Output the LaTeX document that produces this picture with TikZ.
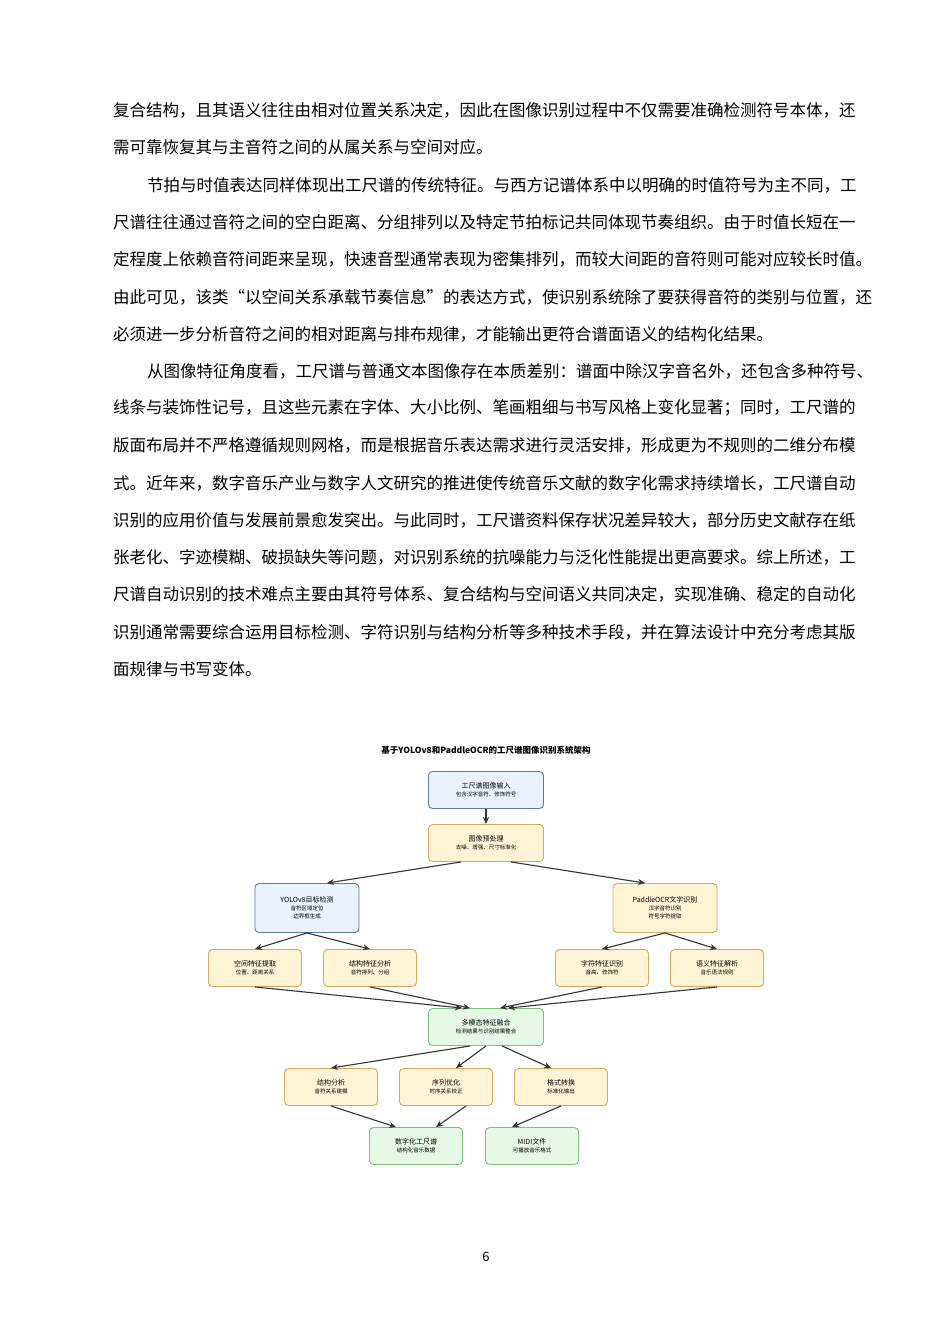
\documentclass[tikz,border=0pt]{standalone}
\usepackage{fontspec}
\setmainfont{Noto Sans CJK SC}
\usetikzlibrary{arrows.meta,calc}
\XeTeXlinebreaklocale "zh"
\XeTeXlinebreakskip=0pt plus 3pt
\definecolor{bfill}{HTML}{EAF3FD}\definecolor{bdraw}{HTML}{5C78A6}
\definecolor{yfill}{HTML}{FFF4D6}\definecolor{ydraw}{HTML}{D6A65C}
\definecolor{gfill}{HTML}{E6F8E6}\definecolor{gdraw}{HTML}{7CC27C}
\tikzset{
 jl/.style={anchor=west,inner sep=0pt,font=\fontsize{16.5}{17}\selectfont},
 bx/.style={rounded corners=4pt,line width=0.9pt,minimum width=#1,minimum height=37pt,align=center,inner sep=1pt,font=\fontsize{7}{9}\selectfont},
 bx/.default=93pt,
 blue/.style={bx=#1,fill=bfill,draw=bdraw},blue/.default=115pt,
 yel/.style={bx=#1,fill=yfill,draw=ydraw},yel/.default=93pt,
 grn/.style={bx=#1,fill=gfill,draw=gdraw},grn/.default=93pt,
 ar/.style={-{Stealth[length=7pt,width=6pt]},line width=1.1pt,draw=black!80}
}
\newcommand{\sub}[1]{\\[-1pt]{\fontsize{5.5}{8}\selectfont #1}}
\newcommand{\jline}[3]{\node[jl] at (#1,#2) {\makebox[\dimexpr860pt-#1pt\relax][s]{#3}};}
\newcommand{\lline}[3]{\node[jl] at (#1,#2) {#3};}
\begin{document}
\begin{tikzpicture}[x=1pt,y=-1pt]
\useasboundingbox[fill=white] (0,0) rectangle (950,1344);
\jline{113}{110}{复合结构，且其语义往往由相对位置关系决定，因此在图像识别过程中不仅需要准确检测符号本体，还}
\lline{113}{147}{需可靠恢复其与主音符之间的从属关系与空间对应。}
\jline{147}{185}{节拍与时值表达同样体现出工尺谱的传统特征。与西方记谱体系中以明确的时值符号为主不同，工}
\jline{113}{222}{尺谱往往通过音符之间的空白距离、分组排列以及特定节拍标记共同体现节奏组织。由于时值长短在一}
\jline{113}{259}{定程度上依赖音符间距来呈现，快速音型通常表现为密集排列，而较大间距的音符则可能对应较长时值。}
\jline{113}{297}{由此可见，该类“以空间关系承载节奏信息”的表达方式，使识别系统除了要获得音符的类别与位置，还}
\lline{113}{334}{必须进一步分析音符之间的相对距离与排布规律，才能输出更符合谱面语义的结构化结果。}
\jline{147}{371}{从图像特征角度看，工尺谱与普通文本图像存在本质差别：谱面中除汉字音名外，还包含多种符号、}
\jline{113}{408}{线条与装饰性记号，且这些元素在字体、大小比例、笔画粗细与书写风格上变化显著；同时，工尺谱的}
\jline{113}{445}{版面布局并不严格遵循规则网格，而是根据音乐表达需求进行灵活安排，形成更为不规则的二维分布模}
\jline{113}{483}{式。近年来，数字音乐产业与数字人文研究的推进使传统音乐文献的数字化需求持续增长，工尺谱自动}
\jline{113}{520}{识别的应用价值与发展前景愈发突出。与此同时，工尺谱资料保存状况差异较大，部分历史文献存在纸}
\jline{113}{557}{张老化、字迹模糊、破损缺失等问题，对识别系统的抗噪能力与泛化性能提出更高要求。综上所述，工}
\jline{113}{594}{尺谱自动识别的技术难点主要由其符号体系、复合结构与空间语义共同决定，实现准确、稳定的自动化}
\jline{113}{632}{识别通常需要综合运用目标检测、字符识别与结构分析等多种技术手段，并在算法设计中充分考虑其版}
\lline{113}{669}{面规律与书写变体。}
\node[font=\fontsize{13}{14}\selectfont] (pn) at (486,1257) {6};
% diagram
\node[font=\bfseries\fontsize{8.5}{10}\selectfont] (title) at (486,750) {基于YOLOv8和PaddleOCR的工尺谱图像识别系统架构};
\node[blue] (in) at (486,790) {工尺谱图像输入\sub{包含汉字音符、修饰符号}};
\node[yel=115pt] (pre) at (486,843) {图像预处理\sub{去噪、增强、尺寸标准化}};
\node[blue=104pt,minimum height=49pt] (yolo) at (307,908) {YOLOv8目标检测\sub{音符区域定位}\sub{边界框生成}};
\node[yel=104pt,minimum height=49pt] (ocr) at (665,908) {PaddleOCR文字识别\sub{汉字音符识别}\sub{符号字符提取}};
\node[yel] (sp) at (255,968) {空间特征提取\sub{位置、距离关系}};
\node[yel] (st) at (370,968) {结构特征分析\sub{音符排列、分组}};
\node[yel] (ch) at (602,968) {字符特征识别\sub{音高、修饰符}};
\node[yel] (se) at (717,968) {语义特征解析\sub{音乐语法规则}};
\node[grn=115pt] (fu) at (486,1027) {多模态特征融合\sub{检测结果与识别结果整合}};
\node[yel] (sa) at (331,1087) {结构分析\sub{音符关系建模}};
\node[yel] (so) at (446,1087) {序列优化\sub{时序关系校正}};
\node[yel] (fc) at (561,1087) {格式转换\sub{标准化输出}};
\node[grn] (dg) at (416,1146) {数字化工尺谱\sub{结构化音乐数据}};
\node[grn] (mi) at (532,1146) {MIDI文件\sub{可播放音乐格式}};
\draw[ar] (in) -- (pre);
\draw[ar] ([xshift=-25pt]pre.south) -- ([xshift=20pt]yolo.north);
\draw[ar] ([xshift=25pt]pre.south) -- ([xshift=-20pt]ocr.north);
\draw[ar] (yolo.south) -- (sp.north);
\draw[ar] (yolo.south) -- (st.north);
\draw[ar] (ocr.south) -- (ch.north);
\draw[ar] (ocr.south) -- (se.north);
\draw[ar] (sp.south) -- ([xshift=-24pt]fu.north);
\draw[ar] (st.south) -- ([xshift=-16pt]fu.north);
\draw[ar] (ch.south) -- ([xshift=14pt]fu.north);
\draw[ar] (se.south) -- ([xshift=22pt]fu.north);
\draw[ar] ([xshift=-16pt]fu.south) -- (sa.north);
\draw[ar] (fu.south) -- ([xshift=10pt]so.north);
\draw[ar] ([xshift=16pt]fu.south) -- ([xshift=-10pt]fc.north);
\draw[ar] (sa.south) -- ([xshift=-20pt]dg.north);
\draw[ar] ([xshift=20pt]so.south) -- ([xshift=20pt]dg.north);
\draw[ar] (fc.south) -- ([xshift=-20pt]mi.north);
\end{tikzpicture}
\end{document}
